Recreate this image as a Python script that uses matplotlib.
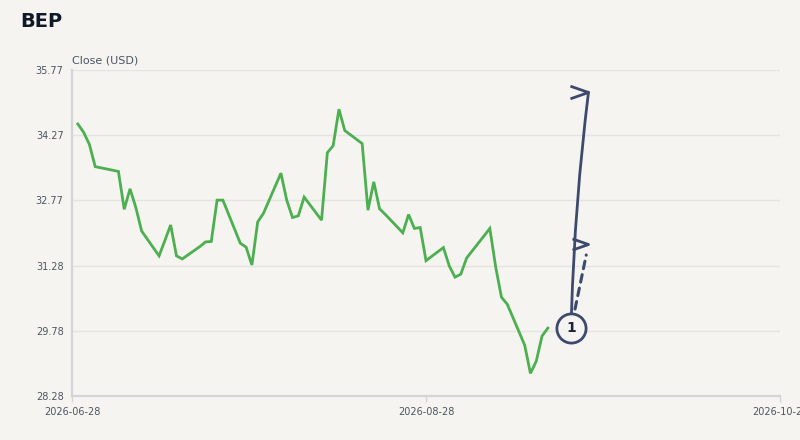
import numpy as np
import pandas as pd
import matplotlib
matplotlib.use("Agg")
import matplotlib.pyplot as plt
from matplotlib.path import Path

# trading days and closing prices
dates = ["2026-06-29", "2026-06-30", "2026-07-01", "2026-07-02", "2026-07-06",
         "2026-07-07", "2026-07-08", "2026-07-09", "2026-07-10", "2026-07-13",
         "2026-07-14", "2026-07-15", "2026-07-16", "2026-07-17", "2026-07-20",
         "2026-07-21", "2026-07-22", "2026-07-23", "2026-07-24", "2026-07-27",
         "2026-07-28", "2026-07-29", "2026-07-30", "2026-07-31", "2026-08-03",
         "2026-08-04", "2026-08-05", "2026-08-06", "2026-08-07", "2026-08-10",
         "2026-08-11", "2026-08-12", "2026-08-13", "2026-08-14", "2026-08-17",
         "2026-08-18", "2026-08-19", "2026-08-20", "2026-08-21", "2026-08-24",
         "2026-08-25", "2026-08-26", "2026-08-27", "2026-08-28", "2026-08-31",
         "2026-09-01", "2026-09-02", "2026-09-03", "2026-09-04", "2026-09-08",
         "2026-09-09", "2026-09-10", "2026-09-11", "2026-09-14", "2026-09-15",
         "2026-09-16", "2026-09-17", "2026-09-18"]
closes = [34.53, 34.34, 34.06, 33.55, 33.44,
          32.57, 33.04, 32.61, 32.07, 31.50,
          31.85, 32.21, 31.50, 31.43, 31.71,
          31.82, 31.83, 32.78, 32.78, 31.79,
          31.70, 31.29, 32.28, 32.48, 33.40,
          32.78, 32.38, 32.42, 32.85, 32.32,
          33.87, 34.03, 34.87, 34.38, 34.08,
          32.55, 33.20, 32.58, 32.45, 32.03,
          32.45, 32.13, 32.15, 31.39, 31.69,
          31.27, 31.01, 31.08, 31.45, 32.13,
          31.25, 30.55, 30.39, 29.45, 28.80,
          29.08, 29.66, 29.84]

# annotation: marker "1" and the two projected targets
note_date = "2026-09-22"
target_date = "2026-09-25"
target_high = 35.26
target_mid = 31.77

x_ticks = ["2026-06-28", "2026-08-28", "2026-10-28"]
y_min, y_max = 28.28, 35.77

bg = "#f5f4f0"
green = "#4caf50"
navy = "#3d4a6d"
text_col = "#4b5563"
grid_col = "#e4e4e2"
spine_col = "#d3d5d9"

x = pd.to_datetime(dates)
fig = plt.figure(figsize=(8, 4.4), dpi=100, facecolor=bg)
ax = fig.add_axes([0.09, 0.10, 0.885, 0.7409])
ax.set_facecolor(bg)

ax.plot(x, closes, color=green, lw=2.0, solid_joinstyle="miter", zorder=3)

ax.set_xlim(pd.Timestamp(x_ticks[0]), pd.Timestamp(x_ticks[-1]))
ax.set_ylim(y_min, y_max)
ax.set_yticks(np.linspace(y_min, y_max, 6))
ax.set_yticklabels([f"{v:.2f}" for v in np.linspace(y_min, y_max, 6)])
ax.set_xticks(pd.to_datetime(x_ticks))
ax.set_xticklabels(x_ticks)

ax.grid(axis="y", color=grid_col, lw=1.0)
ax.set_axisbelow(True)
for s in ["top", "right"]:
    ax.spines[s].set_visible(False)
for s in ["left", "bottom"]:
    ax.spines[s].set_color(spine_col)
    ax.spines[s].set_linewidth(1.6)
ax.tick_params(axis="y", length=0, pad=6, labelsize=7, labelcolor=text_col)
ax.tick_params(axis="x", length=4, width=1, color=spine_col, pad=4,
               labelsize=7, labelcolor=text_col)

fig.text(0.025, 0.952, "BEP", fontsize=14, fontweight="bold", color="#111827",
         va="center", ha="left")
ax.text(0.0, 1.015, "Close (USD)", transform=ax.transAxes, fontsize=8,
        color=text_col, ha="left", va="bottom")

# annotation arrows
nd = pd.Timestamp(note_date)
td = pd.Timestamp(target_date)
last = closes[-1]
ax.annotate("", xy=(td, target_high), xytext=(nd, last),
            arrowprops=dict(arrowstyle="-", color=navy, lw=2.0, shrinkA=10.5,
                            shrinkB=0, connectionstyle="arc3,rad=-0.025"),
            zorder=4)
ax.annotate("", xy=(td, target_mid), xytext=(nd, last),
            arrowprops=dict(arrowstyle="-", color=navy, lw=2.2, shrinkA=14,
                            shrinkB=8, linestyle=(0, (2.5, 2.0))),
            zorder=4)
chevron = Path([(-1.0, 0.35), (0.0, 0.0), (-1.0, -0.35)],
               [Path.MOVETO, Path.LINETO, Path.LINETO])
ax.plot([td], [target_high], marker=chevron, ms=26, mfc="none", mec=navy,
        mew=2.0, zorder=5)
ax.plot([td], [target_mid], marker=chevron, ms=23, mfc="none", mec=navy,
        mew=2.0, zorder=5)

ax.plot([nd], [last], marker="o", ms=21, mfc=bg, mec=navy, mew=2.0, zorder=6)
ax.text(nd, last, "1", fontsize=10, fontweight="bold", color="#1a2238",
        ha="center", va="center", zorder=7)

fig.savefig("out.png", dpi=100, facecolor=bg)
